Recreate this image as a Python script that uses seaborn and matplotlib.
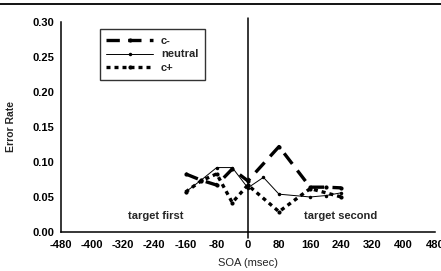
import pandas as pd
import seaborn as sns
import matplotlib.pyplot as plt
import numpy as np

# Data
soa_cminus = [-160, -120, -80, -40, 0, 80, 160, 200, 240]
err_cminus = [0.083, 0.074, 0.067, 0.090, 0.073, 0.122, 0.064, 0.064, 0.063]

soa_neutral = [-160, -120, -80, -40, 0, 40, 80, 160, 200, 240]
err_neutral = [0.057, 0.074, 0.092, 0.092, 0.063, 0.078, 0.054, 0.050, 0.052, 0.056]

soa_cplus = [-160, -120, -80, -40, 0, 80, 160, 240]
err_cplus = [0.057, 0.073, 0.083, 0.042, 0.067, 0.029, 0.062, 0.050]

x_ticks = list(range(-480, 481, 80))
y_ticks = [0.00, 0.05, 0.10, 0.15, 0.20, 0.25, 0.30]

sns.set_style("white")
plt.rcParams['font.family'] = ['Liberation Sans', 'DejaVu Sans']
plt.rcParams['font.weight'] = 'bold'

fig, ax = plt.subplots(figsize=(4.41, 2.71), dpi=100)
fig.subplots_adjust(left=0.138, right=0.986, bottom=0.144, top=0.919)

df_m = pd.DataFrame({'soa': soa_cminus, 'err': err_cminus})
df_n = pd.DataFrame({'soa': soa_neutral, 'err': err_neutral})
df_p = pd.DataFrame({'soa': soa_cplus, 'err': err_cplus})

sns.lineplot(data=df_m, x='soa', y='err', ax=ax, color='black', lw=2.4,
             label='c-', marker='o', markersize=3, markeredgewidth=0)
ax.lines[-1].set_dashes([4, 2.5])
sns.lineplot(data=df_n, x='soa', y='err', ax=ax, color='black', lw=0.7,
             label='neutral', marker='o', markersize=2.5, markeredgewidth=0)
sns.lineplot(data=df_p, x='soa', y='err', ax=ax, color='black', lw=2.4,
             label='c+', marker='o', markersize=3, markeredgewidth=0)
ax.lines[-1].set_dashes([1.2, 1.2])

# vertical line at SOA 0
ax.plot([0, 0], [-0.008, 0.305], color='black', lw=1.1, clip_on=False)

ax.set_xlim(-480, 480)
ax.set_ylim(0, 0.30)
ax.set_xticks(x_ticks)
ax.set_yticks(y_ticks)
ax.set_xticklabels([str(t) for t in x_ticks])
ax.set_yticklabels(['%.2f' % t for t in y_ticks])
ax.tick_params(direction='inout', length=5, width=1, labelsize=8, colors='black', pad=2)
ax.tick_params(axis='x', pad=3)

for s in ['top', 'right']:
    ax.spines[s].set_visible(False)
for s in ['left', 'bottom']:
    ax.spines[s].set_color('black')
    ax.spines[s].set_linewidth(1.1)

ax.set_xlabel('SOA (msec)', fontsize=8, fontweight='normal', labelpad=6)
ax.set_ylabel('Error Rate', fontsize=7.5, fontweight='bold', labelpad=12)

ax.text(-236, 0.023, 'target first', fontsize=8, ha='center', va='center')
ax.text(238, 0.023, 'target second', fontsize=8, ha='center', va='center')

leg = ax.legend(loc='upper left', bbox_to_anchor=(0.104, 0.967), frameon=True, fancybox=False,
                edgecolor='black', fontsize=8, handlelength=4.2, borderpad=0.6,
                labelspacing=0.35, handletextpad=0.7, borderaxespad=0)
leg.get_frame().set_linewidth(1.0)

# scan edge line across the top
fig.add_artist(plt.Line2D([0.0, 1.0], [0.985, 0.985], color='black', lw=1.3))

fig.savefig('out.png', dpi=100)
